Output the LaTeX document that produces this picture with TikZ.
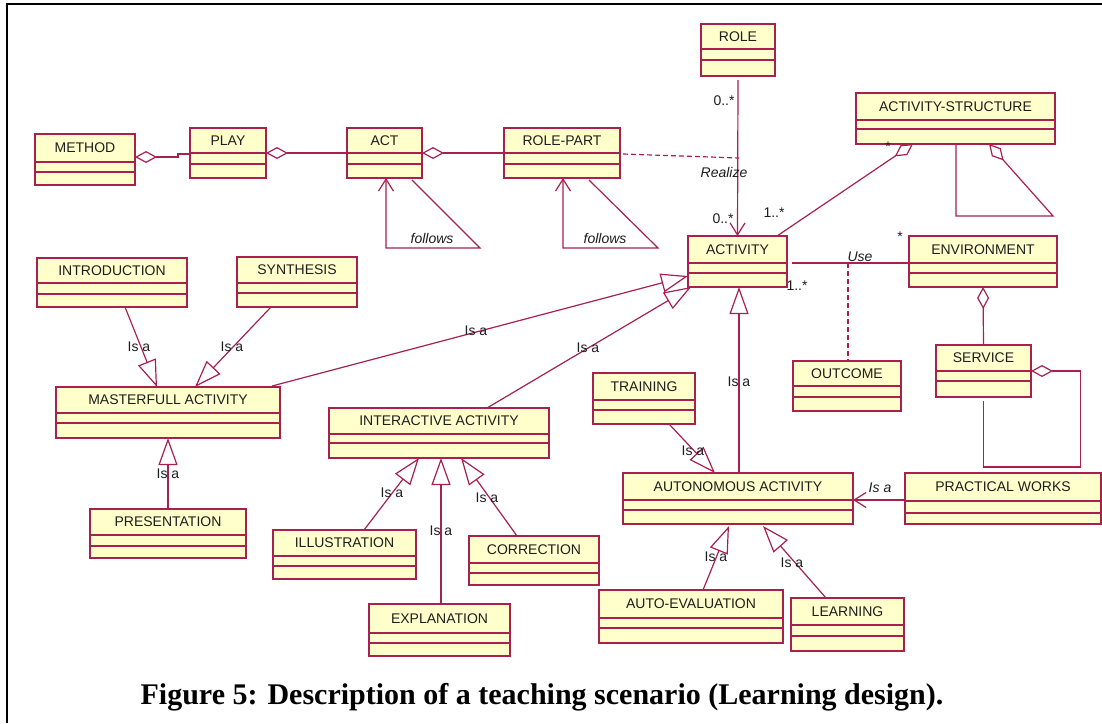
\documentclass[tikz,border=0pt]{standalone}
\usepackage{fontspec}
\setmainfont{Liberation Sans}
\newfontfamily\capfont{Liberation Serif}
\usetikzlibrary{arrows.meta,calc}

\definecolor{umlred}{HTML}{A8204E}
\definecolor{umlfill}{HTML}{FFFFCC}
\definecolor{umltxt}{HTML}{1E1E1E}

\tikzset{
  classbox/.style={draw=umlred, fill=umlfill, line width=1.2pt, rectangle,
    inner sep=0pt, outer sep=0pt, anchor=north west},
  classname/.style={font=\fontsize{14}{16}\selectfont, text=umltxt, inner sep=0pt},
  lbl/.style={font=\fontsize{14}{16}\selectfont, text=umltxt, inner sep=0pt},
  ilbl/.style={font=\fontsize{14}{16}\selectfont\itshape, text=umltxt, inner sep=0pt},
  link/.style={draw=umlred, line width=1.2pt},
  isa/.style={link, -{Triangle[open, length=27pt, width=19pt]}},
  nav/.style={link, -{Straight Barb[length=12pt, width=15pt]}},
  aggr/.style={link, -{Diamond[open, length=22pt, width=12pt]}},
  dep/.style={link, dash pattern=on 5pt off 3pt},
}

% class box: name, x1, y1, x2, y2, first divider, second divider, title
\newcommand\umlclass[8]{%
  \node[classbox, minimum width={(#4-#2)*1pt}, minimum height={(#5-#3)*1pt}] (#1) at (#2,#3) {};
  \draw[link] (#2,#6) -- (#4,#6) (#2,#7) -- (#4,#7);
  \node[classname] (#1-name) at ({(#2+#4)/2},{(#3+#6)/2}) {#8};
}

\begin{document}
\begin{tikzpicture}[x=1pt, y=-1pt]
\useasboundingbox (0,0) rectangle (1102,723);
\fill[white] (0,0) rectangle (1102,723);

% frame
\draw[line width=2.5pt] (7,723) -- (7,4) -- (1102,4);

% classes
\umlclass{method}{35}{134}{135}{185}{162}{172}{METHOD}
\umlclass{play}{190}{128}{266}{178}{153}{164}{PLAY}
\umlclass{act}{347}{128}{422}{178}{153}{164}{ACT}
\umlclass{rolepart}{504}{128}{620}{178}{153}{164}{ROLE-PART}
\umlclass{role}{701}{24}{775}{76}{49}{60}{ROLE}
\umlclass{actstruct}{856}{93}{1055}{144}{120}{129}{ACTIVITY-STRUCTURE}
\umlclass{activity}{688}{236}{787}{287}{263}{273}{ACTIVITY}
\umlclass{environment}{909}{236}{1057}{287}{263}{273}{ENVIRONMENT}
\umlclass{intro}{37}{258}{187}{307}{283}{294}{INTRODUCTION}
\umlclass{synth}{237}{257}{357}{307}{283}{293}{SYNTHESIS}
\umlclass{master}{56}{387}{280}{438}{413}{423}{MASTERFULL ACTIVITY}
\umlclass{present}{90}{509}{246}{558}{535}{546}{PRESENTATION}
\umlclass{inter}{329}{408}{549}{458}{434}{443}{INTERACTIVE ACTIVITY}
\umlclass{illus}{273}{530}{416}{579}{556}{566}{ILLUSTRATION}
\umlclass{explan}{369}{604}{510}{656}{633}{643}{EXPLANATION}
\umlclass{correct}{469}{536}{599}{585}{563}{573}{CORRECTION}
\umlclass{training}{593}{373}{695}{424}{400}{410}{TRAINING}
\umlclass{outcome}{793}{361}{901}{411}{386}{397}{OUTCOME}
\umlclass{service}{936}{345}{1031}{397}{371}{381}{SERVICE}
\umlclass{auton}{623}{473}{853}{524}{500}{510}{AUTONOMOUS ACTIVITY}
\umlclass{practical}{905}{473}{1101}{524}{501}{513}{PRACTICAL WORKS}
\umlclass{autoeval}{599}{590}{783}{643}{618}{628}{AUTO-EVALUATION}
\umlclass{learning}{791}{598}{904}{651}{625}{636}{LEARNING}

% aggregations along the top row
\draw[aggr] ($(play.north west)+(0,26)$) -- ++(-12,0) -- ++(0,3) -- ($(method.north east)+(0,23)$);
\draw[aggr] ($(act.north west)+(0,25)$) -- ($(play.north east)+(0,25)$);
\draw[aggr] ($(rolepart.north west)+(0,25)$) -- ($(act.north east)+(0,25)$);

% "follows" self associations
\draw[nav] ($(act.south west)+(65,2)$) -- ++(68,68) -- ++(-94,0) -- ($(act.south west)+(39,0)$);
\node[ilbl] (fol1) at (432,238) {follows};
\draw[nav] ($(rolepart.south west)+(85,2)$) -- ++(69,68) -- ++(-95,0) -- ($(rolepart.south west)+(59,0)$);
\node[ilbl] (fol2) at (605,238) {follows};

% role to activity, realized by role-part
\coordinate (rz) at ($(role.south)+(1,82)$);
\draw[nav] ($(role.south)+(0,4)$) -- (activity.north);
\draw[dep] ($(rolepart.north east)+(3,26)$) -- (rz);
\node[ilbl] (realize) at (724,172) {Realize};
\node[lbl] (m1) at (724,101) {0..*};
\node[lbl] (m2) at (723,219) {0..*};

% activity structure
\draw[aggr] ($(activity.north east)+(-10,0)$) -- ($(actstruct.south west)+(57,0)$);
\node[lbl] (m3) at (774,213) {1..*};
\node[lbl, anchor=north] (m4) at (888,142) {*};
\draw[aggr] ($(actstruct.south west)+(100,0)$) -- ++(0,72) -- ++(97,0) -- ($(actstruct.south west)+(133,0)$);

% environment and outcome
\coordinate (use) at ($(activity.north east)+(61,27)$);
\draw[link] ($(activity.north east)+(5,27)$) -- ($(environment.north west)+(0,27)$);
\draw[dep] (use) -- (use |- outcome.north);
\node[ilbl] (uselbl) at (860,257) {Use};
\node[lbl] (m5) at (797,286) {1..*};
\node[lbl, anchor=north] (m6) at (900,232) {*};
\draw[aggr] (service.north) -- (environment.south);
\draw[aggr] ($(service.south)+(0,4)$) -- ++(0,66) -- ++(97,0) -- ++(0,-96) -- ($(service.north east)+(0,26)$);

% generalizations towards masterfull activity
\draw[isa] ($(intro.south west)+(88,0)$) -- ($(master.north west)+(101,0)$);
\node[lbl] (i1) at (139,347) {Is a};
\draw[isa] ($(synth.south west)+(34,0)$) -- ($(master.north west)+(139,0)$);
\node[lbl] (i2) at (232,347) {Is a};
\draw[isa] ($(present.north west)+(78,0)$) -- ($(master.south west)+(112,0)$);
\node[lbl] (i3) at (168,474) {Is a};

% generalizations towards activity
\draw[isa] ($(master.north east)+(-8,-1)$) -- ($(activity.south west)+(0,-11)$);
\node[lbl] (i4) at (476,331) {Is a};
\draw[isa] ($(inter.north west)+(158,0)$) -- ($(activity.south west)+(3,0)$);
\node[lbl] (i5) at (588,348) {Is a};
\draw[isa] ($(auton.north west)+(116,0)$) -- ($(activity.south west)+(51,0)$);
\node[lbl] (i6) at (739,382) {Is a};

% generalizations towards interactive activity
\draw[isa] ($(illus.north west)+(91,0)$) -- ($(inter.south west)+(90,0)$);
\node[lbl] (i7) at (392,493) {Is a};
\draw[isa] ($(explan.north west)+(72,0)$) -- ($(inter.south west)+(112,0)$);
\node[lbl] (i8) at (441,531) {Is a};
\draw[isa] ($(correct.north west)+(48,0)$) -- ($(inter.south west)+(132,0)$);
\node[lbl] (i9) at (487,498) {Is a};

% generalizations towards autonomous activity
\draw[isa] ($(training.south west)+(76,0)$) -- ($(auton.north west)+(92,0)$);
\node[lbl] (i10) at (693,451) {Is a};
\draw[isa] ($(autoeval.north west)+(104,0)$) -- ($(auton.south west)+(106,2)$);
\node[lbl] (i11) at (716,557) {Is a};
\draw[isa] ($(learning.north west)+(35,0)$) -- ($(auton.south west)+(140,2)$);
\node[lbl] (i12) at (792,563) {Is a};
\draw[nav] ($(practical.north west)+(0,27)$) -- ($(auton.north east)+(0,27)$);
\node[ilbl] (i13) at (880,488) {Is a};

% caption
\node[font=\capfont\bfseries\fontsize{30}{34}\selectfont, inner sep=0pt] (caption) at (542,697)
  {Figure 5: Description of a teaching scenario (Learning design).};
\end{tikzpicture}
\end{document}
